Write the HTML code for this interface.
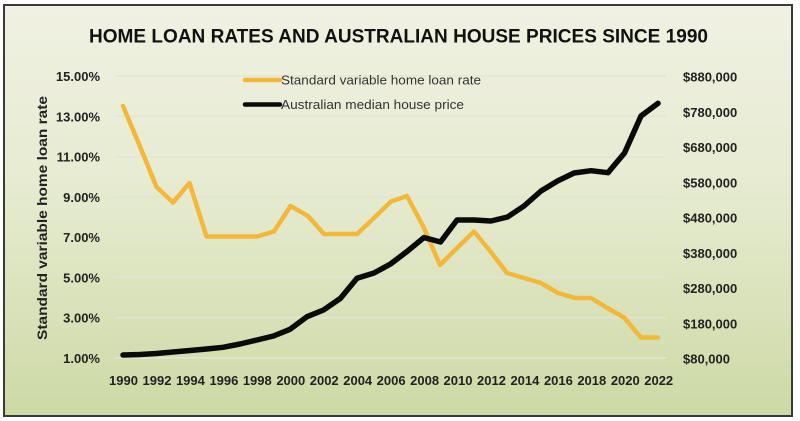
<!DOCTYPE html>
<html>
<head>
<meta charset="utf-8">
<style>
  html,body{margin:0;padding:0;background:#ffffff;}
  svg{display:block;}
  text{font-family:"Liberation Sans", Arial, sans-serif;}
</style>
</head>
<body>
<svg width="800" height="421" viewBox="0 0 800 421" xmlns="http://www.w3.org/2000/svg">
  <defs>
    <linearGradient id="bg" x1="0" y1="0" x2="0" y2="1">
      <stop offset="0" stop-color="#f0f1e3"/>
      <stop offset="0.45" stop-color="#e6ebd0"/>
      <stop offset="1" stop-color="#cdd9a5"/>
    </linearGradient>
  </defs>
  <rect x="0" y="0" width="800" height="421" fill="#ffffff"/>
  <rect x="4" y="5" width="788" height="411" fill="url(#bg)" stroke="#3a3a3a" stroke-width="2"/>

  <!-- Title -->
  <text x="89" y="42.5" font-size="19.5" font-weight="bold" fill="#111" textLength="619" lengthAdjust="spacingAndGlyphs">HOME LOAN RATES AND AUSTRALIAN HOUSE PRICES SINCE 1990</text>

  <!-- Gridlines -->
  <g stroke="#e2e5d3" stroke-width="1.5">
    <line x1="115" y1="76" x2="666" y2="76"/>
    <line x1="115" y1="116.3" x2="666" y2="116.3"/>
    <line x1="115" y1="156.6" x2="666" y2="156.6"/>
    <line x1="115" y1="196.9" x2="666" y2="196.9"/>
    <line x1="115" y1="237.1" x2="666" y2="237.1"/>
    <line x1="115" y1="277.4" x2="666" y2="277.4"/>
    <line x1="115" y1="317.7" x2="666" y2="317.7"/>
    <line x1="115" y1="358" x2="666" y2="358"/>
  </g>

  <!-- Left axis labels -->
  <g font-size="13" font-weight="bold" fill="#222" text-anchor="end">
    <text x="100" y="81">15.00%</text>
    <text x="100" y="121.3">13.00%</text>
    <text x="100" y="161.6">11.00%</text>
    <text x="100" y="201.9">9.00%</text>
    <text x="100" y="242.1">7.00%</text>
    <text x="100" y="282.4">5.00%</text>
    <text x="100" y="322.7">3.00%</text>
    <text x="100" y="363">1.00%</text>
  </g>

  <!-- Right axis labels -->
  <g font-size="13" font-weight="bold" fill="#222">
    <text x="683" y="81.5">$880,000</text>
    <text x="683" y="116.8">$780,000</text>
    <text x="683" y="152">$680,000</text>
    <text x="683" y="187.3">$580,000</text>
    <text x="683" y="222.5">$480,000</text>
    <text x="683" y="257.8">$380,000</text>
    <text x="683" y="293">$280,000</text>
    <text x="683" y="328.3">$180,000</text>
    <text x="683" y="363.5">$80,000</text>
  </g>

  <!-- X axis labels -->
  <g font-size="13" font-weight="bold" fill="#222" text-anchor="middle">
    <text x="123.5" y="385">1990</text>
    <text x="157" y="385">1992</text>
    <text x="190.4" y="385">1994</text>
    <text x="223.9" y="385">1996</text>
    <text x="257.3" y="385">1998</text>
    <text x="290.8" y="385">2000</text>
    <text x="324.2" y="385">2002</text>
    <text x="357.7" y="385">2004</text>
    <text x="391.1" y="385">2006</text>
    <text x="424.6" y="385">2008</text>
    <text x="458" y="385">2010</text>
    <text x="491.5" y="385">2012</text>
    <text x="524.9" y="385">2014</text>
    <text x="558.4" y="385">2016</text>
    <text x="591.8" y="385">2018</text>
    <text x="625.3" y="385">2020</text>
    <text x="658.7" y="385">2022</text>
  </g>

  <!-- Y axis title -->
  <text transform="translate(47,218) rotate(-90)" font-size="14" font-weight="bold" fill="#222" text-anchor="middle" textLength="244" lengthAdjust="spacingAndGlyphs">Standard variable home loan rate</text>

  <!-- Legend -->
  <line x1="245" y1="80" x2="280" y2="80" stroke="#f3b83a" stroke-width="4.5" stroke-linecap="round"/>
  <text x="281" y="84.5" font-size="13" fill="#333" textLength="200" lengthAdjust="spacingAndGlyphs">Standard variable home loan rate</text>
  <line x1="245" y1="104.5" x2="280" y2="104.5" stroke="#0a0a0a" stroke-width="4.5" stroke-linecap="round"/>
  <text x="281" y="109" font-size="13" fill="#333" textLength="183" lengthAdjust="spacingAndGlyphs">Australian median house price</text>

  <!-- Rate series -->
  <polyline fill="none" stroke="#f3b83a" stroke-width="4.5" stroke-linejoin="round" stroke-linecap="round"
    points="123,106 140,146.5 156.5,187 173,202.5 189.5,183 206.5,236.5 223,236.5 240,236.5 257,236.5 274,231.5 290.5,206 308,216 324,234 340.5,234 357,234 374,218 391,201.5 407,196 424,228 440,265 457,248 474,231.5 490.5,251.5 507,273 524,278 541,283 558,293 575,298 591,298 607.5,308 624,317.5 641,337.5 658,337.5"/>

  <!-- Price series -->
  <polyline fill="none" stroke="#0a0a0a" stroke-width="5.5" stroke-linejoin="round" stroke-linecap="round"
    points="123,355 140,354.5 156.5,353.5 173,352 190,350.5 206.5,349 223,347.3 240,344 257,340 273.5,336 290,329.3 307,316.7 323.5,310 340.5,298.3 357,278.3 374,273 390.5,264 407,251.5 424,237.5 440.5,242 457,220 474,220 491,221 507.5,217 524,206 541,191 557.5,181 574,173 591,170.7 608,172.7 624.5,153 641,116 658,103.3"/>
</svg>
</body>
</html>
